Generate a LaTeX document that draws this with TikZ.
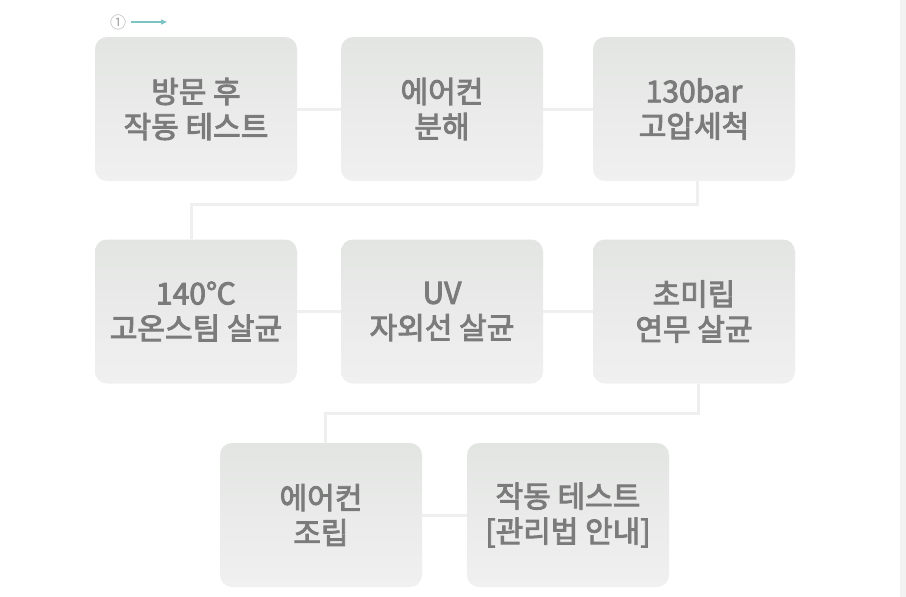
\documentclass[tikz,border=0pt]{standalone}
\usepackage{fontspec}
\newfontfamily\kr{Noto Sans CJK KR}[FakeBold=3]
\newfontfamily\krn{Noto Sans CJK KR}
\usetikzlibrary{arrows.meta}
\definecolor{txt}{HTML}{7A7B7A}
\definecolor{ln}{HTML}{EEEFEE}
\definecolor{topc}{HTML}{E3E5E3}
\definecolor{botc}{HTML}{F0F0F0}
\definecolor{teal}{HTML}{7CC3C3}
\tikzset{
  stepbox/.style={rounded corners=12pt, minimum width=202pt, minimum height=144pt,
    top color=topc, bottom color=botc, draw=none, inner sep=0pt,
    align=center, text=txt, font=\kr\fontsize{30pt}{35pt}\selectfont},
  link/.style={draw=ln, line width=3pt}
}
\begin{document}
\begin{tikzpicture}[x=1pt,y=-1pt]
\useasboundingbox (0,0) rectangle (906,597);
\fill[white] (0,0) rectangle (906,597);
\fill[black!5] (900,0) rectangle (906,597);
% label
\node[font=\krn\fontsize{16pt}{18pt}\selectfont, text=black!35, inner sep=0pt] (num) at (118,22) {①};
\coordinate (arrowend) at (167,22);
\draw[teal, line width=1.2pt, -{Triangle[length=6pt,width=5pt]}] ([xshift=5pt]num.east) -- (arrowend);
% boxes
\node[stepbox] (b1) at (196,109) {방문 후\\작동 테스트};
\node[stepbox] (b2) at (442,109) {에어컨\\분해};
\node[stepbox] (b3) at (694,109) {130bar\\고압세척};
\node[stepbox] (b4) at (196,311.5) {140℃\\고온스팀 살균};
\node[stepbox] (b5) at (442,311.5) {UV\\자외선 살균};
\node[stepbox] (b6) at (694,311.5) {초미립\\연무 살균};
\node[stepbox] (b7) at (321,515) {에어컨\\조립};
\node[stepbox] (b8) at (568,515) {작동 테스트\\{[}관리법 안내{]}};
% connectors
\draw[link] (b1.east) -- (b2.west);
\draw[link] (b2.east) -- (b3.west);
\coordinate (c1) at (697,204);
\coordinate (c2) at (191,204);
\draw[link] (b3.south -| c1) -- (c1) -- (c2) -- (b4.north -| c2);
\draw[link] (b4.east) -- (b5.west);
\draw[link] (b5.east) -- (b6.west);
\coordinate (c3) at (698,413);
\coordinate (c4) at (325,413);
\draw[link] (b6.south -| c3) -- (c3) -- (c4) -- (b7.north -| c4);
\draw[link] (b7.east) -- (b8.west);
\end{tikzpicture}
\end{document}
